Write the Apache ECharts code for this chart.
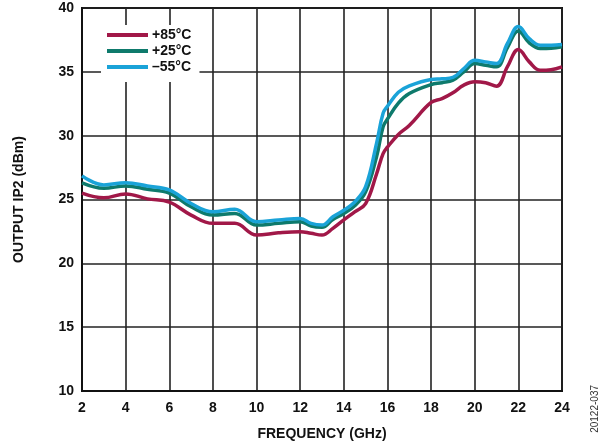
<!DOCTYPE html>
<html>
<head>
<meta charset="utf-8">
<script src="https://cdn.jsdelivr.net/npm/echarts@6/dist/echarts.min.js"></script>
<style>
html,body{margin:0;padding:0;background:#fff;}
#c{width:607px;height:446px;}
</style>
</head>
<body>
<div id="c"></div>
<script>
var freq = [2,3,4,5,6,7,8,9,10,11,12,12.5,13,13.5,14,14.5,15,15.5,15.8,16,16.5,17,18,18.5,19,19.5,20,20.5,21,21.5,22,22.5,23,23.5,24];
var t85 = [25.5,25.13,25.44,25.05,24.79,23.78,23.13,23.13,22.22,22.39,22.48,22.35,22.22,22.74,23.4,24.03,24.68,27.0,28.6,29.1,30.1,30.8,32.6,32.9,33.36,33.96,34.22,34.14,33.88,35.4,36.75,35.78,35.13,35.17,35.39];
var t25 = [26.3,25.88,26.06,25.8,25.5,24.43,23.78,23.91,23.0,23.13,23.26,22.92,22.83,23.44,23.9,24.5,25.6,28.35,30.7,31.3,32.55,33.3,34.0,34.15,34.35,35.0,35.65,35.52,35.39,36.9,38.2,37.27,36.83,36.85,36.96];
var t55 = [26.85,26.14,26.32,26.06,25.75,24.69,24.04,24.23,23.26,23.39,23.52,23.13,23.0,23.65,24.16,24.8,26.0,29.4,31.76,32.3,33.4,33.9,34.4,34.45,34.56,35.26,35.9,35.78,35.65,37.22,38.55,37.6,37.09,37.09,37.14];
var seriesNames = ['+85°C','+25°C','\u201355°C'];
var seriesColors = ['#A11848','#0E7A6C','#1AA3D8'];
var xTicks = {min:2, max:24, interval:2};
var yTicks = {min:10, max:40, interval:5};

function pairs(ys){ return freq.map(function(f,i){ return [f, ys[i]]; }); }
var allData = [t85, t25, t55];

var chart = echarts.init(document.getElementById('c'), null, {renderer:'canvas'});
var font = 'Liberation Sans, Arial, sans-serif';
chart.setOption({
  animation:false,
  backgroundColor:'#fff',
  textStyle:{fontFamily:font},
  grid:{left:82,right:45,top:8,bottom:55,show:true,borderColor:'#111',borderWidth:2,backgroundColor:'transparent'},
  xAxis:{
    type:'value', min:xTicks.min, max:xTicks.max, interval:xTicks.interval,
    name:'FREQUENCY (GHz)', nameLocation:'middle', nameGap:36,
    nameTextStyle:{fontFamily:font,fontWeight:'bold',fontSize:14,color:'#111'},
    axisLine:{show:true,lineStyle:{color:'#111',width:2}},
    axisTick:{show:false},
    axisLabel:{fontFamily:font,fontWeight:'bold',fontSize:14,color:'#111',margin:10},
    splitLine:{show:true,lineStyle:{color:'#222',width:1.6}}
  },
  yAxis:{
    type:'value', min:yTicks.min, max:yTicks.max, interval:yTicks.interval,
    name:'OUTPUT IP2 (dBm)', nameLocation:'middle', nameGap:56, nameRotate:90,
    nameTextStyle:{fontFamily:font,fontWeight:'bold',fontSize:14,color:'#111'},
    axisLine:{show:true,lineStyle:{color:'#111',width:2}},
    axisTick:{show:false},
    axisLabel:{fontFamily:font,fontWeight:'bold',fontSize:14,color:'#111',margin:8},
    splitLine:{show:true,lineStyle:{color:'#222',width:1.6}}
  },
  legend:{
    orient:'vertical', left:101, top:25,
    padding:[3,8,8,6],
    backgroundColor:'#fff',
    itemWidth:41, itemHeight:4, itemGap:2,
    icon:'rect',
    textStyle:{fontFamily:font,fontWeight:'bold',fontSize:14,color:'#111',padding:[0,0,0,-1],lineHeight:14},
    data:seriesNames
  },
  graphic:[{
    type:'text', left:590, top:385, rotation:Math.PI/2,
    style:{text:'20122-037', font:'10px Liberation Sans, Arial, sans-serif', fill:'#333'}
  }],
  series: seriesNames.map(function(n,i){
    return {
      name:n, type:'line', smooth:0.4, showSymbol:false, symbol:'none',
      data:pairs(allData[i]),
      lineStyle:{color:seriesColors[i],width:3.5},
      itemStyle:{color:seriesColors[i]},
      z:3+i
    };
  })
});
</script>
</body>
</html>
